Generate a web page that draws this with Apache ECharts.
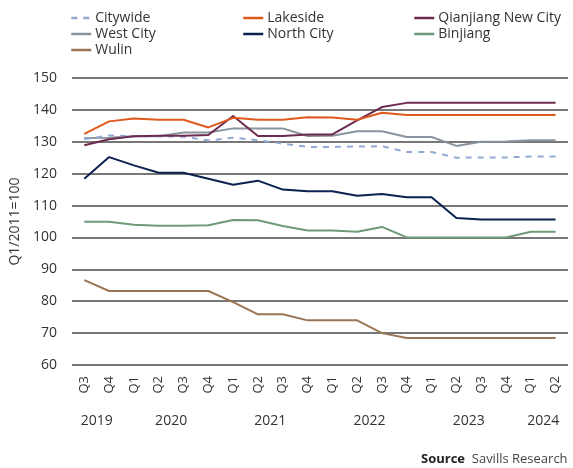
<!DOCTYPE html>
<html>
<head>
  <meta charset="utf-8">
  <script src="https://cdn.jsdelivr.net/npm/echarts@6/dist/echarts.min.js"></script>
  <style>
    html, body { margin: 0; padding: 0; background: #fff; }
  </style>
</head>
<body>
<div id="main" style="width:573px;height:468px;"></div>
<script type="text/javascript">
var quarters = ['Q3','Q4','Q1','Q2','Q3','Q4','Q1','Q2','Q3','Q4',
                'Q1','Q2','Q3','Q4','Q1','Q2','Q3','Q4','Q1','Q2'];
// year labels sit in the middle of their quarters
var yearPos = [0.5, 3.5, 7.5, 11.5, 15.5, 18.5];
var yearText = ['2019', '2020', '2021', '2022', '2023', '2024'];

var citywide  = [130.8, 132.0, 131.7, 131.7, 131.6, 130.4, 131.3, 130.5, 129.4, 128.4,
                 128.4, 128.5, 128.6, 126.8, 126.8, 125.0, 125.1, 125.1, 125.4, 125.4];
var lakeside  = [132.5, 136.4, 137.3, 136.9, 136.9, 134.5, 137.5, 136.9, 136.9, 137.7,
                 137.6, 136.9, 139.1, 138.4, 138.4, 138.4, 138.4, 138.4, 138.4, 138.4];
var qianjiang = [128.9, 130.8, 131.7, 131.9, 131.9, 132.1, 138.1, 131.8, 131.8, 132.3,
                 132.3, 136.7, 140.9, 142.2, 142.2, 142.2, 142.2, 142.2, 142.2, 142.2];
var westCity  = [131.2, 131.3, 131.7, 131.7, 132.9, 132.9, 134.2, 134.2, 134.2, 131.8,
                 131.9, 133.3, 133.3, 131.5, 131.5, 128.7, 130.0, 130.1, 130.5, 130.5];
var northCity = [118.4, 125.2, 122.6, 120.3, 120.3, 118.4, 116.5, 117.8, 115.0, 114.5,
                 114.5, 113.1, 113.6, 112.6, 112.6, 106.1, 105.6, 105.6, 105.6, 105.6];
var binjiang  = [104.9, 104.9, 104.0, 103.7, 103.7, 103.8, 105.5, 105.4, 103.6, 102.2,
                 102.2, 101.8, 103.3, 100.0, 100.0, 100.0, 100.0, 100.0, 101.8, 101.8];
var wulin     = [86.6, 83.2, 83.2, 83.2, 83.2, 83.2, 79.7, 75.9, 75.9, 74.0,
                 74.0, 74.0, 70.0, 68.5, 68.5, 68.5, 68.5, 68.5, 68.5, 68.5];

var font = '"Open Sans", sans-serif';
var textColor = '#333';

function line(name, data, color, dashed) {
  return {
    name: name,
    type: 'line',
    data: data,
    symbol: 'none',
    lineStyle: { color: color, width: 2, type: dashed ? [6, 6] : 'solid' },
    itemStyle: { color: color }
  };
}

function legendCol(left, names) {
  return {
    orient: 'vertical',
    left: left,
    top: 11,
    itemWidth: 20,
    itemHeight: 14,
    itemGap: 2,
    padding: 0,
    itemStyle: { opacity: 0 },
    lineStyle: { width: 2.5 },
    textStyle: { fontFamily: font, fontSize: 14, color: textColor, padding: [0, 0, 0, -1] },
    data: names
  };
}

var chart = echarts.init(document.getElementById('main'));
chart.setOption({
  animation: false,
  backgroundColor: '#fff',
  textStyle: { fontFamily: font },
  legend: [
    legendCol(70, ['Citywide', 'West City', 'Wulin']),
    legendCol(242, ['Lakeside', 'North City']),
    legendCol(413, ['Qianjiang New City', 'Binjiang'])
  ],
  grid: { left: 68, right: 5, top: 78, bottom: 103 },
  xAxis: [
    {
      type: 'category',
      data: quarters,
      boundaryGap: true,
      axisLine: { show: false },
      axisTick: { show: false },
      axisLabel: { rotate: 90, margin: 11, fontSize: 13, color: textColor, fontFamily: font }
    },
    {
      type: 'value',
      min: -0.5,
      max: 19.5,
      position: 'bottom',
      axisLine: { show: false },
      axisTick: { show: false },
      splitLine: { show: false },
      axisLabel: {
        margin: 49,
        fontSize: 14,
        color: textColor,
        fontFamily: font,
        customValues: yearPos,
        formatter: function (v) {
          var i = yearPos.indexOf(v);
          return i >= 0 ? yearText[i] : '';
        }
      }
    }
  ],
  yAxis: {
    type: 'value',
    min: 60,
    max: 150,
    interval: 10,
    name: 'Q1/2011=100',
    nameLocation: 'middle',
    nameGap: 43,
    nameTextStyle: { fontSize: 14, color: textColor, fontFamily: font },
    axisLine: { show: false },
    axisTick: { show: false },
    axisLabel: { margin: 15, fontSize: 14, color: textColor, fontFamily: font },
    splitLine: { lineStyle: { color: '#4a4a4a', width: 1.5 } }
  },
  graphic: [{
    type: 'text',
    left: 421,
    top: 453,
    style: {
      text: '{b|Source}  Savills Research',
      fontFamily: font,
      fontSize: 13,
      fill: '#444',
      rich: { b: { fontWeight: 'bold', fontSize: 13, fontFamily: font, fill: '#222', color: '#222' } }
    }
  }],
  series: [
    line('Wulin', wulin, '#9b7656'),
    line('Binjiang', binjiang, '#6e9a78'),
    line('North City', northCity, '#0c2150'),
    line('West City', westCity, '#8a949e'),
    line('Citywide', citywide, '#92aad3', true),
    line('Qianjiang New City', qianjiang, '#6c2b50'),
    line('Lakeside', lakeside, '#e0581c')
  ]
});
</script>
</body>
</html>
